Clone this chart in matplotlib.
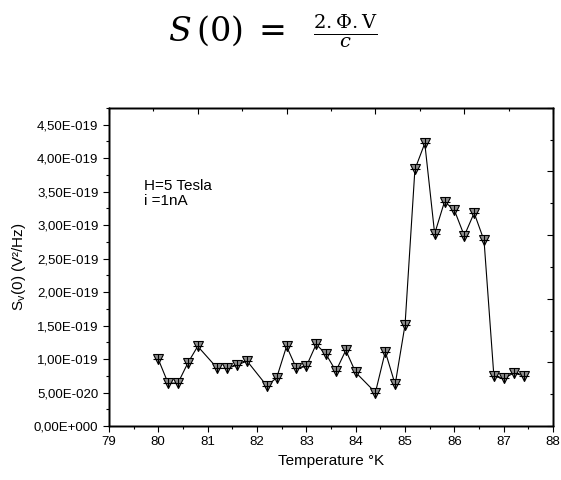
import matplotlib
matplotlib.use("Agg")
import matplotlib.pyplot as plt
import numpy as np
from matplotlib.ticker import MultipleLocator, FuncFormatter

plt.rcParams['font.family'] = ['Liberation Sans', 'DejaVu Sans']
plt.rcParams['mathtext.fontset'] = 'stix'

# temperature (K) and noise S_v(0) in units of 1e-19 V^2/Hz
temp = [80.0, 80.2, 80.4, 80.6, 80.8, 81.2, 81.4, 81.6, 81.8, 82.2, 82.4,
        82.6, 82.8, 83.0, 83.2, 83.4, 83.6, 83.8, 84.0, 84.4, 84.6, 84.8,
        85.0, 85.2, 85.4, 85.6, 85.8, 86.0, 86.2, 86.4, 86.6, 86.8, 87.0,
        87.2, 87.4]
sv = [1.00, 0.64, 0.64, 0.94, 1.19, 0.86, 0.86, 0.91, 0.97, 0.60, 0.72,
      1.19, 0.86, 0.89, 1.22, 1.07, 0.82, 1.13, 0.80, 0.50, 1.11, 0.62,
      1.51, 3.83, 4.22, 2.87, 3.35, 3.22, 2.84, 3.18, 2.77, 0.74, 0.71,
      0.79, 0.75]

x = np.array(temp)
y = np.array(sv) * 1e-19

fig = plt.figure(figsize=(5.61, 4.8), dpi=100)
ax = fig.add_axes([0.194, 0.1125, 0.792, 0.663])

ax.plot(x, y, color='black', lw=0.8, zorder=2)
ax.plot(x, y, ls='none', marker='v', ms=7, mfc='#8c8c8c', mec='black',
        mew=0.8, zorder=3)
ax.plot(x, y, ls='none', marker='+', ms=7, mec='black', mew=0.8, zorder=4)

ax.set_xlim(79, 88)
ax.set_ylim(0, 4.75e-19)
ax.xaxis.set_major_locator(MultipleLocator(1))
ax.xaxis.set_minor_locator(MultipleLocator(0.5))
ax.yaxis.set_major_locator(MultipleLocator(0.5e-19))
ax.yaxis.set_minor_locator(MultipleLocator(0.25e-19))


def sci_fmt(v, pos):
    if abs(v) < 1e-30:
        return "0,00E+000"
    e = int(np.floor(np.log10(abs(v))))
    m = v / 10 ** e
    return ("%.2f" % m).replace('.', ',') + "E%s%03d" % ('-' if e < 0 else '+', abs(e))


ax.yaxis.set_major_formatter(FuncFormatter(sci_fmt))
ax.tick_params(which='both', direction='out', labelsize=9.5, width=0.8)
ax.tick_params(which='major', length=4)
ax.tick_params(which='minor', length=2.5)

# top and right frames carry their own inward ticks
axt = ax.twiny()
axt.set_xlim(0, 10)
axt.xaxis.set_major_locator(MultipleLocator(2))
axt.xaxis.set_minor_locator(MultipleLocator(1))
axt.tick_params(which='both', direction='in', labeltop=False, width=0.8)
axt.tick_params(which='major', length=4)
axt.tick_params(which='minor', length=2.5)
axr = ax.twinx()
axr.set_ylim(0, 10)
axr.yaxis.set_major_locator(MultipleLocator(2))
axr.yaxis.set_minor_locator(MultipleLocator(1))
axr.tick_params(which='both', direction='in', labelright=False, width=0.8)
axr.tick_params(which='major', length=4)
axr.tick_params(which='minor', length=2.5)
for a in (ax, axt, axr):
    for s in a.spines.values():
        s.set_linewidth(1.0)

ax.set_xlabel("Temperature °K", fontsize=11)
ax.set_ylabel("S$_\\mathregular{v}$(0) (V²/Hz)", fontsize=11)
ax.text(0.08, 0.775, "H=5 Tesla\ni =1nA", transform=ax.transAxes,
        fontsize=11, va='top', ha='left', linespacing=1.05)

fig.text(168 / 561, 1 - 31 / 480, r"$S\,(0)\;=$", fontsize=24,
         ha='left', va='center', math_fontfamily='dejavuserif')
fig.text(345 / 561, 1 - 31 / 480, r"$\frac{\mathrm{2.\Phi.V}}{c}$",
         fontsize=20, ha='center', va='center', math_fontfamily='dejavuserif')

fig.savefig("out.png", dpi=100)
